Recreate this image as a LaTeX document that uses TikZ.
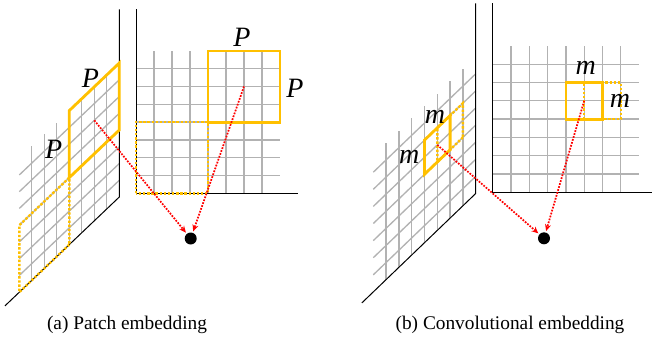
\documentclass[tikz,border=0pt]{standalone}
\usepackage{fontspec}
\setmainfont{Liberation Serif}
\newfontfamily\labelfont{Liberation Serif}
\usetikzlibrary{arrows.meta}
\definecolor{patchgold}{RGB}{255,192,0}
\definecolor{gridgray}{RGB}{178,178,178}
\tikzset{
  gridline/.style={draw=gridgray, line width=1pt},
  axisline/.style={draw=black, line width=0.75pt},
  patch/.style={draw=patchgold, line width=2.1pt},
  patchdots/.style={draw=patchgold, line width=1.8pt, dash pattern=on 1.8pt off 1.3pt},
  flow/.style={draw=red, line width=1.3pt, densely dotted, shorten >=1pt, -{Stealth[length=5pt,width=4.5pt]}},
  sizelabel/.style={font=\labelfont\itshape\fontsize{21}{25}\selectfont, inner sep=0pt},
  caption/.style={font=\fontsize{14.5}{17}\selectfont, anchor=base},
  embed/.style={circle, fill=black, inner sep=0pt, minimum size=9pt}
}
\begin{document}
\begin{tikzpicture}[x=0.75pt, y=-0.75pt]
  \useasboundingbox (0,0) rectangle (653,351);

  % (a) side plane
  \begin{scope}[shift={(119.3,197)}, x={(-12.5,11.9)}, y={(0,-16.75)}]
    \foreach \k in {1,...,7} {
      \draw[gridline] (\k,0) -- (\k,8);
      \draw[gridline] (0,\k) -- (8,\k);
    }
    \draw[axisline] (0,11.2) -- (0,0) -- (9.15,0);
    \draw[patch] (0,4) -- (4,4) -- (4,8) -- (0,8) -- cycle;
    \draw[patchdots] (4,0) -- (8,0) -- (8,4) -- (4,4) -- cycle;
    \coordinate (srcAL) at (2,6);
  \end{scope}

  % (a) front plane
  \begin{scope}[shift={(136,193.3)}, x={(18,0)}, y={(0,-17.8)}]
    \foreach \k in {1,...,7} {
      \draw[gridline] (\k,0) -- (\k,8);
      \draw[gridline] (0,\k) -- (8,\k);
    }
    \draw[axisline] (0,10.35) -- (0,0) -- (9,0);
    \draw[patch] (4,4) rectangle (8,8);
    \draw[patchdots] (0,0) rectangle (4,4);
    \coordinate (srcAR) at (6,6);
  \end{scope}

  \node[sizelabel] (sideAtop) at (90.5,78.7) {P};
  \node[sizelabel] (sideAleft) at (53.8,149.8) {P};
  \node[sizelabel] (frontAtop) at (242,37.5) {P};
  \node[sizelabel] (frontAright) at (295,88) {P};

  \node[embed] (embA) at (190.7,238.5) {};
  \draw[flow] (srcAL) -- (embA);
  \draw[flow] (srcAR) -- (embA);

  % (b) side plane
  \begin{scope}[shift={(475.7,193.5)}, x={(-12.8,12.3)}, y={(0,-17.1)}]
    \foreach \k in {1,...,7} {
      \draw[gridline] (\k,0) -- (\k,8);
      \draw[gridline] (0,\k) -- (8,\k);
    }
    \draw[axisline] (0,11.12) -- (0,0) -- (8.9,0);
    \draw[patch] (2,4) -- (4,4) -- (4,6) -- (2,6) -- cycle;
    \draw[patchdots] (1,4) -- (3,4) -- (3,6) -- (1,6) -- cycle;
    \coordinate (srcBL) at (3,5);
  \end{scope}

  % (b) front plane
  \begin{scope}[shift={(492.7,192.3)}, x={(18.3,0)}, y={(0,-18.3)}]
    \foreach \k in {1,...,7} {
      \draw[gridline] (\k,0) -- (\k,8);
      \draw[gridline] (0,\k) -- (8,\k);
    }
    \draw[axisline] (0,10.33) -- (0,0) -- (8.73,0);
    \draw[patch] (4,4) rectangle (6,6);
    \draw[patchdots] (5,4) rectangle (7,6);
    \coordinate (srcBR) at (5,5);
  \end{scope}

  \node[sizelabel] (sideBtop) at (435,116.7) {m};
  \node[sizelabel] (sideBleft) at (409.2,156.7) {m};
  \node[sizelabel] (frontBtop) at (585.8,68.3) {m};
  \node[sizelabel] (frontBright) at (620,101) {m};

  \node[embed] (embB) at (544,238.3) {};
  \draw[flow] (srcBL) -- (embB);
  \draw[flow] (srcBR) -- (embB);

  \node[caption] (capA) at (127,329) {(a) Patch embedding};
  \node[caption] (capB) at (510,329) {(b) Convolutional embedding};
\end{tikzpicture}
\end{document}
